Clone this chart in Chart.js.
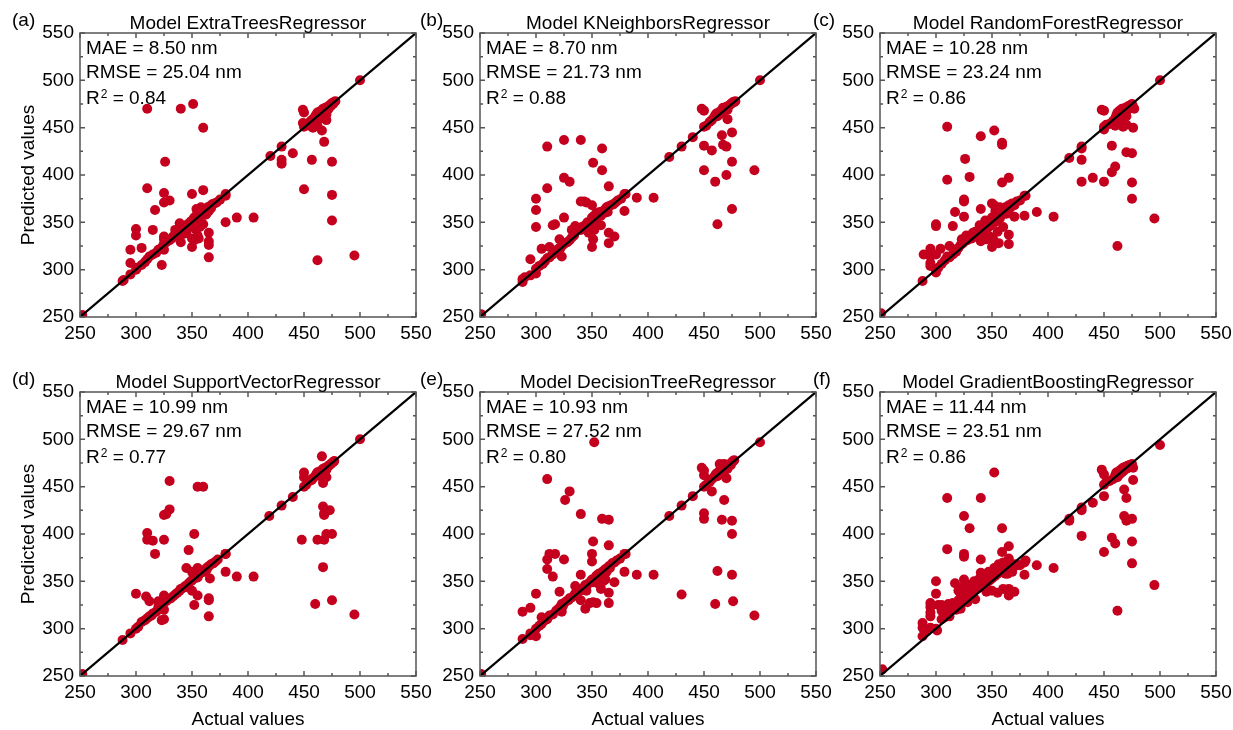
<!DOCTYPE html>
<html>
<head>
<meta charset="utf-8">
<script src="https://cdn.jsdelivr.net/npm/chart.js@4.4.1/dist/chart.umd.min.js"></script>
<style>
  body { margin: 0; background: #fff; overflow: hidden; }
  #wrap { position: relative; width: 1233px; height: 730px; background: #fff; }
  #wrap canvas { position: absolute; }
</style>
</head>
<body>
<div id="wrap"></div>
<script>
// axis range and tick labels shared by all six panels
var axisTicks = [250, 300, 350, 400, 450, 500, 550];
var diagonal = [[250, 250], [550, 550]];

// [actual, predicted] pairs
var etrPoints = [[252,252],[288,288],[289,289],[295,295],[300,300],[301,302],[305,305],[308,308],[310,311],[312,314],[315,316],[318,318],[320,321],[322,322],[324,325],[325,327],[327,329],[328,330],[330,331],[332,333],[333,335],[335,336],[336,338],[337,341],[338,343],[340,340],[341,344],[342,345],[343,343],[344,341],[345,346],[346,348],[347,345],[348,349],[349,351],[350,350],[351,353],[352,355],[353,352],[354,357],[355,354],[355,360],[356,358],[357,362],[358,356],[359,361],[360,360],[361,364],[362,363],[363,359],[364,366],[365,362],[366,367],[367,365],[368,369],[370,370],[372,371],[375,374],[380,380],[420,420],[450,451],[452,453],[455,456],[457,458],[459,460],[460,462],[461,464],[462,466],[463,462],[464,467],[465,465],[466,468],[467,470],[468,466],[469,471],[470,469],[471,472],[472,470],[473,474],[474,473],[475,476],[476,475],[477,477],[478,478],[500,500],
  [295,307],[295,321],[300,336],[300,343],[305,323],[310,386],[310,470],[315,342],[317,363],[323,305],[325,321],[326,414],[325,381],[325,371],[330,373],[325,335],[325,332],[340,470],[340,329],[351,475],[360,450],[350,380],[360,384],[350,324],[350,333],[365,339],[365,330],[365,326],[365,313],[380,378],[380,350],[390,355],[405,355],[430,430],[430,416],[430,412],[440,423],[450,385],[457,416],[468,435],[466,447],[475,414],[475,379],[475,352],[462,310],[495,315],[449,469],[450,466],[449,455],[450,452],[458,450],[462,452],[470,458],[335,342],[339,349],[345,339],[353,343],[357,345],[356,333],[352,331],[355,336],[360,348],
  [354,364],[358,366],[362,358],[356,350],[353,348],[343,338],[338,336],[460,458],[465,460],[470,464],[455,452]];

var knnPoints = [[251,253],[288,290],[288,287],[290,292],[295,294],[300,296],[300,301],[303,304],[306,306],[308,309],[310,312],[312,313],[315,316],[318,319],[320,322],[322,323],[324,326],[326,328],[328,329],[330,331],[332,334],[334,336],[335,340],[336,343],[338,344],[340,342],[341,345],[343,346],[345,348],[346,350],[348,347],[349,352],[350,355],[351,353],[352,357],[353,351],[354,360],[355,356],[356,359],[357,361],[358,357],[360,362],[361,360],[362,364],[363,366],[364,361],[365,367],[367,368],[369,369],[371,371],[373,373],[376,375],[380,380],[419,419],[430,430],[440,440],[450,451],[452,452],[455,456],[457,458],[459,461],[460,463],[461,465],[462,462],[463,466],[464,464],[465,467],[466,469],[467,471],[468,468],[469,470],[470,472],[471,469],[472,473],[473,474],[474,475],[475,476],[476,477],[477,477],[478,478],[500,500],
  [295,311],[300,375],[300,363],[300,345],[305,322],[310,430],[310,386],[312,324],[315,347],[317,348],[323,314],[325,437],[325,355],[325,397],[330,393],[321,332],[340,437],[340,372],[345,371],[343,372],[351,413],[359,428],[359,405],[365,388],[350,324],[351,332],[365,339],[365,328],[370,335],[379,380],[379,362],[390,376],[405,376],[450,431],[450,405],[457,426],[460,393],[462,348],[466,442],[467,432],[470,430],[470,400],[475,445],[475,414],[475,364],[495,405],[448,470],[450,468],[471,459],[332,342],[335,346],[350,368],[355,347],[358,347],[347,339],[352,342]];

var rfrPoints = [[251,254],[288,288],[300,300],[302,302],[305,306],[308,310],[310,314],[312,313],[315,316],[318,319],[320,323],[322,326],[323,332],[324,328],[325,330],[326,333],[328,331],[330,334],[332,333],[334,337],[335,340],[337,336],[338,341],[340,344],[341,338],[342,346],[343,342],[345,348],[346,344],[347,350],[348,346],[349,352],[350,355],[351,349],[352,353],[353,358],[354,351],[355,356],[356,360],[357,354],[358,362],[359,358],[360,364],[361,361],[362,366],[363,359],[364,363],[365,368],[366,365],[368,370],[370,368],[372,372],[375,373],[380,378],[419,418],[430,430],[430,428],[450,451],[452,453],[455,454],[458,457],[460,460],[461,463],[462,466],[463,459],[464,468],[465,464],[466,470],[467,466],[468,469],[469,471],[470,467],[471,470],[472,473],[473,471],[474,474],[475,475],[476,472],[477,470],[500,500],
  [289,316],[295,322],[295,314],[295,307],[295,304],[300,348],[300,346],[300,316],[300,297],[304,322],[310,451],[310,395],[312,325],[315,346],[317,361],[325,374],[325,372],[326,417],[325,356],[330,398],[340,441],[340,364],[340,330],[352,447],[359,434],[359,432],[359,392],[365,397],[350,324],[351,332],[365,337],[365,327],[370,356],[379,378],[379,357],[390,361],[405,356],[430,416],[430,393],[440,397],[450,393],[450,448],[448,469],[450,468],[457,431],[457,403],[460,409],[462,325],[470,424],[475,423],[475,392],[475,375],[476,450],[467,451],[470,453],[460,452],[495,354],[350,370],[352,368],[345,332],[355,340],[360,345],[348,335],[356,328],
  [353,362],[357,366],[362,360],[344,352],[339,347],[333,339],[327,336],[466,458],[462,455],[470,462]];

var svrPoints = [[252,252],[288,288],[295,295],[300,300],[302,302],[305,307],[308,309],[310,311],[312,313],[315,316],[318,318],[320,320],[321,323],[322,325],[323,327],[324,326],[325,328],[327,329],[329,331],[331,332],[333,334],[335,336],[337,338],[339,340],[340,342],[342,343],[344,345],[345,344],[347,348],[349,350],[350,351],[352,353],[354,355],[355,354],[356,357],[358,359],[360,361],[361,360],[362,363],[364,365],[365,366],[367,368],[369,369],[371,371],[373,373],[380,379],[419,419],[430,430],[440,439],[450,450],[452,452],[455,456],[457,457],[458,459],[460,461],[461,463],[462,465],[463,462],[464,466],[465,464],[466,467],[467,469],[468,466],[469,470],[470,468],[471,471],[472,472],[473,473],[474,474],[475,475],[476,476],[477,477],[500,500],
  [300,337],[309,334],[312,329],[310,401],[310,394],[315,393],[317,379],[314,314],[323,309],[325,310],[325,394],[325,420],[327,421],[330,456],[330,426],[320,329],[320,323],[325,335],[325,320],[345,364],[347,383],[350,360],[350,340],[352,400],[352,325],[355,450],[360,450],[355,364],[355,335],[365,332],[365,330],[365,313],[366,353],[363,362],[380,379],[380,360],[390,355],[405,355],[448,394],[450,465],[450,460],[462,394],[460,326],[466,482],[467,429],[468,422],[468,420],[468,394],[467,365],[467,458],[467,454],[473,425],[470,400],[475,400],[475,330],[495,315],[462,465],[470,460]];

var dtrPoints = [[251,252],[288,289],[295,295],[300,300],[303,303],[305,305],[308,309],[310,310],[312,314],[315,315],[318,319],[320,321],[322,323],[323,326],[324,324],[325,327],[327,329],[329,330],[330,332],[332,333],[334,335],[335,337],[337,338],[339,340],[340,341],[342,343],[344,346],[345,344],[347,348],[349,350],[350,352],[351,349],[353,354],[354,356],[355,353],[356,358],[357,355],[358,359],[359,357],[360,361],[361,358],[362,363],[363,360],[365,366],[366,364],[368,369],[370,370],[372,372],[375,374],[380,379],[419,419],[430,430],[440,440],[450,450],[452,452],[455,455],[457,458],[459,460],[460,462],[461,464],[462,461],[463,465],[464,467],[465,463],[466,468],[467,466],[468,470],[469,468],[470,471],[471,469],[472,472],[473,474],[474,473],[475,476],[476,477],[477,478],[500,497],
  [288,318],[295,322],[295,293],[300,337],[300,292],[305,312],[310,458],[310,373],[310,363],[312,379],[315,355],[317,379],[325,373],[326,436],[330,445],[321,339],[323,318],[340,421],[340,357],[340,330],[344,321],[350,379],[350,371],[352,497],[351,392],[359,416],[365,415],[365,388],[365,338],[365,327],[348,327],[354,327],[351,328],[370,349],[379,379],[379,360],[390,357],[405,357],[430,336],[448,470],[450,467],[450,462],[450,422],[450,416],[457,445],[460,326],[462,361],[466,415],[468,436],[475,414],[475,400],[475,357],[476,329],[495,314],[470,459],[464,474],[468,474],[335,345],[345,340],[355,348],[360,350],[362,352],[358,342]];

var gbrPoints = [[252,257],[288,292],[290,297],[300,300],[301,298],[305,310],[308,312],[310,315],[312,318],[315,322],[318,326],[320,330],[322,333],[323,328],[324,336],[325,338],[326,334],[327,340],[328,336],[330,342],[331,338],[332,344],[333,340],[335,345],[336,342],[337,347],[338,343],[340,348],[341,344],[342,350],[343,346],[344,352],[345,348],[346,354],[347,350],[348,356],[349,352],[350,358],[351,354],[352,360],[353,356],[354,362],[355,358],[356,364],[357,360],[358,366],[359,362],[360,360],[361,364],[362,358],[363,366],[364,362],[365,368],[366,364],[368,366],[370,368],[372,367],[375,367],[380,372],[450,452],[452,455],[455,456],[458,458],[460,462],[461,465],[462,460],[463,466],[464,463],[465,468],[466,465],[467,470],[468,467],[469,471],[470,469],[471,472],[472,470],[473,473],[474,471],[475,474],[476,470],
  [288,306],[288,301],[295,327],[295,323],[295,317],[295,313],[295,301],[300,350],[300,337],[305,325],[305,319],[310,438],[310,384],[311,326],[312,313],[315,327],[317,348],[325,419],[325,379],[325,376],[325,352],[330,406],[340,438],[340,373],[340,359],[352,465],[359,406],[359,381],[365,387],[365,374],[365,335],[365,342],[370,339],[373,367],[379,370],[379,357],[390,367],[405,364],[419,416],[419,414],[430,428],[430,425],[430,398],[440,433],[448,468],[450,463],[450,440],[450,381],[457,396],[460,390],[462,319],[468,447],[470,438],[468,419],[470,414],[475,416],[475,392],[475,369],[476,457],[495,346],[500,494],[350,340],[355,338],[345,339],[360,342],[335,331],[328,328],[322,321],[318,320],[302,325],[307,322],
  [320,340],[324,344],[330,346],[334,350],[338,352],[343,356],[347,360],[352,364],[356,368],[360,370],[364,358],[368,360]];

var modelNames = ['ExtraTreesRegressor', 'KNeighborsRegressor', 'RandomForestRegressor',
                  'SupportVectorRegressor', 'DecisionTreeRegressor', 'GradientBoostingRegressor'];
var panelLetters = ['(a)', '(b)', '(c)', '(d)', '(e)', '(f)'];
var maeValues = ['8.50', '8.70', '10.28', '10.99', '10.93', '11.44'];
var rmseValues = ['25.04', '21.73', '23.24', '29.67', '27.52', '23.51'];
var r2Values = ['0.84', '0.88', '0.86', '0.77', '0.80', '0.86'];
var allPoints = [etrPoints, knnPoints, rfrPoints, svrPoints, dtrPoints, gbrPoints];

var FONT = "'Liberation Sans', Arial, sans-serif";
var DOT = '#c4001e';

Chart.defaults.font.family = FONT;
Chart.defaults.font.size = 19;
Chart.defaults.color = '#000';

// frame, inward ticks and all the text inside each panel
var panelText = {
    id: 'panelText',
    afterDraw: function (chart, args, opts) {
        var ctx = chart.ctx;
        var a = chart.chartArea;
        var xs = chart.scales.x, ys = chart.scales.y;
        ctx.save();
        ctx.strokeStyle = '#555';
        ctx.lineWidth = 1.5;
        ctx.strokeRect(a.left, a.top, a.right - a.left, a.bottom - a.top);

        ctx.beginPath();
        for (var v = axisTicks[0]; v <= axisTicks[axisTicks.length - 1]; v += 25) {
            var len = (v % 50 === 0) ? 5 : 3;
            var px = xs.getPixelForValue(v);
            var py = ys.getPixelForValue(v);
            ctx.moveTo(px, a.bottom); ctx.lineTo(px, a.bottom - len);
            ctx.moveTo(px, a.top); ctx.lineTo(px, a.top + len);
            ctx.moveTo(a.left, py); ctx.lineTo(a.left + len, py);
            ctx.moveTo(a.right, py); ctx.lineTo(a.right - len, py);
        }
        ctx.stroke();

        ctx.fillStyle = '#000';
        ctx.font = '19px ' + FONT;
        ctx.textBaseline = 'alphabetic';
        ctx.textAlign = 'center';
        ctx.fillText('Model ' + opts.model, (a.left + a.right) / 2, a.top - 4);
        ctx.textAlign = 'left';
        ctx.fillText(opts.letter, a.left + opts.letterDx, a.top - 7);

        var tx = a.left + 6;
        ctx.fillText('MAE = ' + opts.mae + ' nm', tx, a.top + 21);
        ctx.fillText('RMSE = ' + opts.rmse + ' nm', tx, a.top + 45);
        ctx.fillText('R', tx, a.top + 71);
        var rw = ctx.measureText('R').width;
        ctx.font = '12px ' + FONT;
        ctx.fillText('2', tx + rw + 1, a.top + 65);
        var sw = ctx.measureText('2').width;
        ctx.font = '19px ' + FONT;
        ctx.fillText(' = ' + opts.r2, tx + rw + 1 + sw, a.top + 71);
        ctx.restore();
    }
};

// where each canvas sits on the page
var colLayout = [
    { x: 0, w: 440, yw: 80, padR: 24, letterDx: -68, yTitle: true },
    { x: 410, w: 430, yw: 70, padR: 24, letterDx: -60, yTitle: false },
    { x: 800, w: 433, yw: 80, padR: 17, letterDx: -67, yTitle: false }
];
var rowLayout = [
    { y: 0, h: 360, padT: 33, xh: 43, xTitle: false },
    { y: 350, h: 381, padT: 42, xh: 55, xTitle: true }
];

function toXY(list) {
    return list.map(function (p) { return { x: p[0], y: p[1] }; });
}

function makePanel(i) {
    var col = colLayout[i % 3];
    var row = rowLayout[Math.floor(i / 3)];
    var canvas = document.createElement('canvas');
    canvas.width = col.w;
    canvas.height = row.h;
    canvas.style.left = col.x + 'px';
    canvas.style.top = row.y + 'px';
    document.getElementById('wrap').appendChild(canvas);

    var lo = axisTicks[0], hi = axisTicks[axisTicks.length - 1];

    new Chart(canvas.getContext('2d'), {
        type: 'scatter',
        data: {
            datasets: [{
                type: 'line',
                data: toXY(diagonal),
                borderColor: '#000',
                borderWidth: 2.2,
                pointRadius: 0,
                fill: false
            }, {
                data: toXY(allPoints[i]),
                backgroundColor: DOT,
                borderWidth: 0,
                pointRadius: 5,
                pointHoverRadius: 5
            }]
        },
        options: {
            responsive: false,
            animation: false,
            events: [],
            layout: { padding: { top: row.padT, right: col.padR, left: 0, bottom: 0 } },
            plugins: {
                legend: { display: false },
                tooltip: { enabled: false },
                panelText: {
                    model: modelNames[i], letter: panelLetters[i], letterDx: col.letterDx,
                    mae: maeValues[i], rmse: rmseValues[i], r2: r2Values[i]
                }
            },
            scales: {
                x: {
                    type: 'linear', min: lo, max: hi,
                    grid: { display: false, drawTicks: false },
                    border: { display: false },
                    ticks: { stepSize: 50, padding: 5, color: '#000', autoSkip: false, maxRotation: 0 },
                    title: { display: row.xTitle, text: 'Actual values', color: '#000', padding: { top: 0, bottom: 0 } },
                    afterFit: function (s) { s.height = row.xh; s.paddingLeft = 0; s.paddingRight = 0; }
                },
                y: {
                    type: 'linear', min: lo, max: hi,
                    grid: { display: false, drawTicks: false },
                    border: { display: false },
                    ticks: { stepSize: 50, padding: 6, color: '#000', autoSkip: false },
                    title: { display: col.yTitle, text: 'Predicted values', color: '#000', padding: { top: 17, bottom: 0 } },
                    afterFit: function (s) { s.width = col.yw; s.paddingTop = 0; s.paddingBottom = 0; }
                }
            }
        },
        plugins: [panelText]
    });
}

for (var i = 0; i < 6; i++) {
    makePanel(i);
}
</script>
</body>
</html>
